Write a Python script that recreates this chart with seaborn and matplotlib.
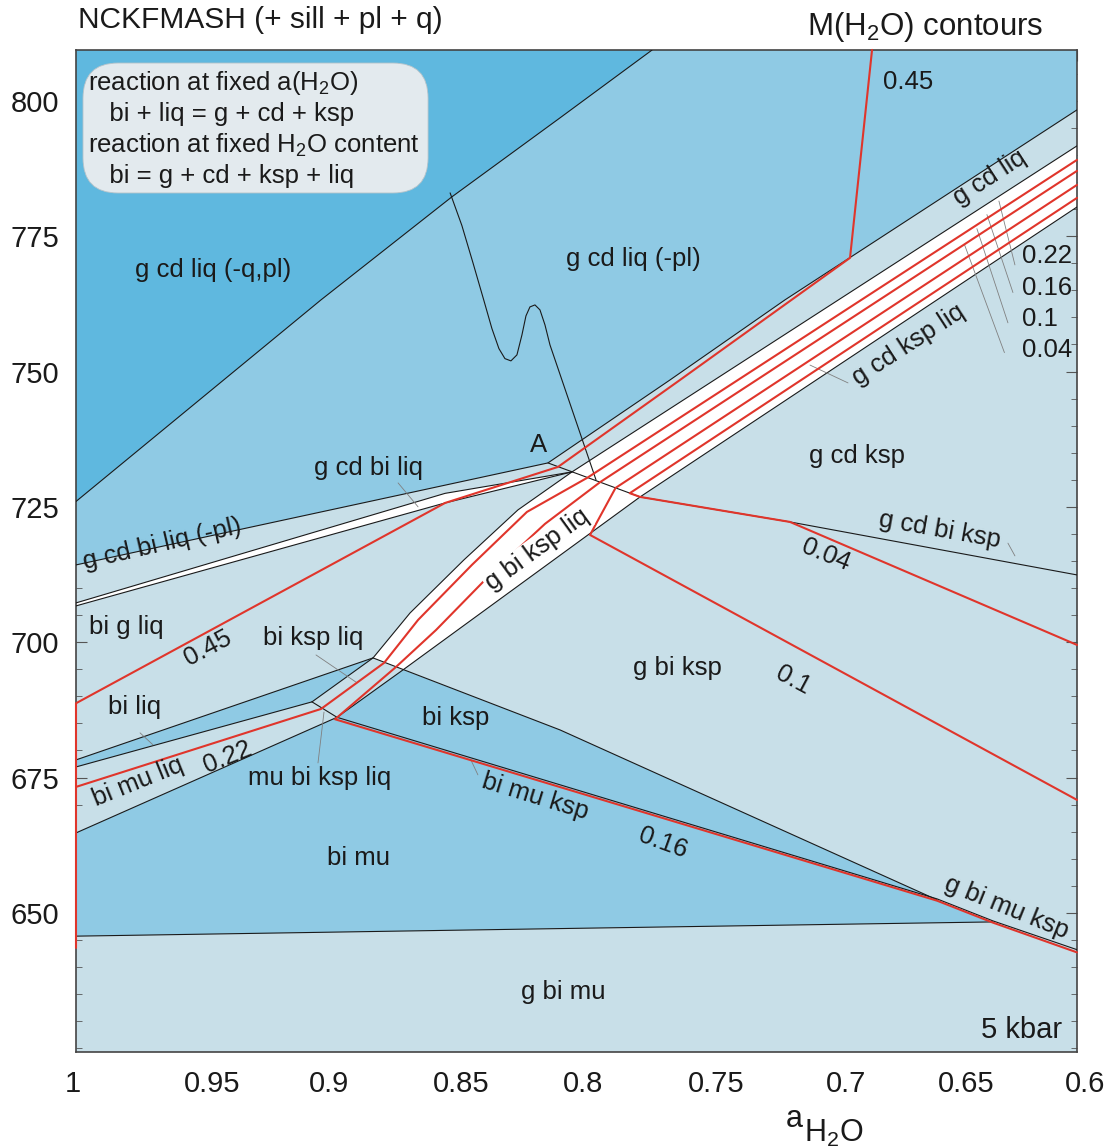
import numpy as np
import pandas as pd
import matplotlib
matplotlib.use("Agg")
import matplotlib.pyplot as plt
from matplotlib.patches import FancyBboxPatch
from matplotlib.transforms import ScaledTranslation
import seaborn as sns

# ---------------- data (a_H2O, T in C) ----------------
A_MIN, A_MAX = 0.6, 1.0
T_MIN, T_MAX = 624.3, 809.4

# field boundaries
dark_a = [1.0, 0.9021, 0.8498, 0.8066, 0.7698]
dark_T = [726.0, 763.24, 782.27, 796.86, 809.4]

top_a = [1.0, 0.8114, 0.7626, 0.7167, 0.6]          # g cd liq(-pl) lower edge through A
top_T = [714.28, 733.12, 748.46, 763.24, 798.34]

sliver_up_a = [1.0, 0.8525, 0.8018]
sliver_up_T = [707.26, 727.5, 731.46]
sliver_lo_a = [1.0, 0.8525, 0.8018]
sliver_lo_T = [706.71, 725.73, 731.46]

band_up_a = [0.9057, 0.8813, 0.8665, 0.845, 0.8234, 0.8018, 0.6]
band_up_T = [688.98, 697.1, 705.41, 715.2, 724.44, 731.46, 791.69]
band_lo_a = [0.8957, 0.8693, 0.7746, 0.6]
band_lo_T = [686.13, 694.9, 726.84, 780.4]

cross_a = [0.8114, 0.7746]                 # A to g cd bi ksp liq point
cross_T = [733.12, 726.84]

gcdbiksp_a = [0.7746, 0.7147, 0.6]
gcdbiksp_T = [726.84, 722.22, 712.43]

biksp_a = [0.8813, 0.8066, 0.6559]
biksp_T = [697.1, 683.8, 652.4]

bimuksp_a = [0.8957, 0.6559, 0.6336, 0.6]
bimuksp_T = [686.13, 652.58, 648.52, 643.2]

gbimu_a = [1.0, 0.8066, 0.6336]
gbimu_T = [645.7, 647.1, 648.33]

biliq_a = [1.0, 0.8813]
biliq_T = [678.26, 697.1]
bimuliq_up_a = [1.0, 0.9057]
bimuliq_up_T = [676.96, 688.98]
bimuliq_lo_a = [1.0, 0.8957]
bimuliq_lo_T = [664.77, 686.13]
mubikspliq_a = [0.9057, 0.8957]
mubikspliq_T = [688.98, 686.13]

# reaction curve at fixed H2O content
curve_a = [0.8505, 0.8458, 0.8414, 0.8370, 0.8338, 0.8310, 0.8286, 0.8262, 0.8238, 0.8218,
           0.8202, 0.8186, 0.8166, 0.8146, 0.8126, 0.8106, 0.7922]
curve_T = [783.0, 776.97, 770.13, 763.11, 757.94, 754.24, 752.39, 751.97, 753.08, 756.77,
           760.28, 761.94, 762.31, 761.39, 758.62, 754.92, 729.98]

# M(H2O) contours
c045_a = [0.6819, 0.6907, 0.7586, 0.8074, 0.8525, 1.0, 1.0]
c045_T = [809.42, 771.0, 748.46, 732.38, 725.73, 688.72, 643.53]
c022_a = [0.6, 0.7956, 0.8198, 0.8418, 0.8633, 0.8769, 0.9021, 1.0]
c022_T = [789.1, 730.4, 724.07, 714.28, 704.12, 696.18, 687.67, 673.27]
c016_a = [0.6, 0.7906, 0.8126, 0.8346, 0.8561, 0.8721, 0.8965, 0.6559, 0.6336, 0.6]
c016_T = [787.07, 729.56, 721.86, 712.43, 702.27, 695.44, 685.77, 652.25, 648.2, 642.7]
c010_a = [0.6, 0.7844, 0.7946, 0.6]
c010_T = [784.48, 728.5, 719.82, 670.87]
c004_a = [0.6, 0.7787, 0.7746, 0.7147, 0.6]
c004_T = [782.08, 727.53, 726.84, 722.22, 699.5]

# field labels: text, a, T, rotation
field_labels = [
    ("g cd liq (-q,pl)", 0.9453, 768.8, 0),
    ("g cd liq (-pl)", 0.7774, 770.8, 0),
    ("g cd liq", 0.6348, 785.8, 33),
    ("g cd ksp liq", 0.6675, 754.9, 33),
    ("g cd ksp", 0.6879, 734.4, 0),
    ("g cd bi ksp", 0.6547, 720.75, -10),
    ("g bi ksp", 0.7598, 695.25, 0),
    ("bi mu ksp", 0.8166, 671.4, -17),
    ("bi ksp", 0.8481, 686.0, 0),
    ("g bi mu ksp", 0.628, 650.9, -22),
    ("g bi mu", 0.8054, 635.4, 0),
    ("bi mu", 0.8873, 660.2, 0),
    ("mu bi ksp liq", 0.9025, 674.9, 0),
    ("bi mu liq", 0.9752, 674.2, 22),
    ("bi liq", 0.9764, 688.0, 0),
    ("bi ksp liq", 0.9053, 700.8, 0),
    ("bi g liq", 0.98, 702.8, 0),
    ("g cd bi liq (-pl)", 0.9656, 718.2, 13),
    ("g cd bi liq", 0.8833, 732.2, 0),
    ("A", 0.815, 736.4, 0),
]
band_label = ("g bi ksp liq", 0.8158, 717.05, 36)
contour_labels = [
    ("0.45", 0.6675, 803.5, 0),
    ("0.45", 0.9473, 698.9, 28),
    ("0.22", 0.9393, 678.8, 22),
    ("0.04", 0.7003, 716.1, -22),
    ("0.1", 0.7135, 693.0, -28),
    ("0.16", 0.7654, 662.93, -20),
]
side_values = ["0.22", "0.16", "0.1", "0.04"]
side_T = [771.3, 765.4, 759.7, 754.0]

x_ticks = [1.0, 0.95, 0.9, 0.85, 0.8, 0.75, 0.7, 0.65, 0.6]
x_tick_labels = ["1", "0.95", "0.9", "0.85", "0.8", "0.75", "0.7", "0.65", "0.6"]
x_label_shift_px = [-3, 11, 3, 10, 7, 15, 19, 14, 8]
y_ticks = [650, 675, 700, 725, 750, 775, 800]

# leader lines (a0, T0, a1, T1)
leaders = [
    (0.8713, 729.43, 0.8633, 725.0),
    (0.9041, 697.65, 0.8877, 692.5),
    (0.9744, 683.25, 0.9692, 681.03),
    (0.9033, 677.7, 0.9009, 687.1),
    (0.8422, 678.26, 0.8394, 675.5),
    (0.6915, 747.9, 0.7067, 751.2),
    (0.6276, 718.3, 0.6248, 715.95),
    (0.6248, 769.7, 0.6312, 781.5),
    (0.6256, 764.6, 0.6360, 779.0),
    (0.6276, 759.0, 0.6400, 776.4),
    (0.6290, 753.5, 0.6450, 773.5),
]

box_lines = ["reaction at fixed a(H$_2$O)", "   bi + liq = g + cd + ksp",
             "reaction at fixed H$_2$O content", "   bi = g + cd + ksp + liq"]

# ---------------- style ----------------
sns.set_theme(style="white")
plt.rcParams["font.family"] = ["Liberation Sans", "DejaVu Sans"]
plt.rcParams["mathtext.fontset"] = "custom"
plt.rcParams["mathtext.rm"] = "Liberation Sans"
plt.rcParams["mathtext.it"] = "Liberation Sans"

DARK = "#5fb8df"
MED = "#8fcae4"
LIGHT = "#c8dfe8"
RED = "#e0352b"
INK = "#1a1a1a"

fig = plt.figure(figsize=(11.06, 11.48), dpi=100)
ax = fig.add_axes([76 / 1106, 96 / 1148, 1001 / 1106, 1002 / 1148])
ax.set_xlim(A_MAX, A_MIN)
ax.set_ylim(T_MIN, T_MAX)
ax.set_facecolor(LIGHT)

# ---------------- fields ----------------
med_top = list(zip(top_a, top_T))[::-1] + [(1.0, T_MAX), (0.6, T_MAX)]
ax.fill([p[0] for p in med_top], [p[1] for p in med_top], color=MED, lw=0, zorder=1)
ax.fill([1.0] + dark_a[::-1] + [1.0], [T_MAX] + dark_T[::-1] + [T_MAX], color=DARK, lw=0, zorder=1)

ax.fill(biliq_a + [0.9057, 1.0], biliq_T + [688.98, 676.96], color=MED, lw=0, zorder=1)

bm_a = [1.0, 0.8957, 0.8693] + biksp_a[1:] + [0.6336] + gbimu_a[::-1]
bm_T = [664.77, 686.13, 694.9] + biksp_T[1:] + [648.33] + gbimu_T[::-1]
ax.fill(bm_a, bm_T, color=MED, lw=0, zorder=1)

ax.fill(sliver_up_a + sliver_lo_a[::-1], sliver_up_T + sliver_lo_T[::-1], color="white", lw=0, zorder=1)
ax.fill(band_up_a[1:] + band_lo_a[1:][::-1], band_up_T[1:] + band_lo_T[1:][::-1], color="white", lw=0, zorder=1)

# ---------------- boundaries ----------------
black_sets = [
    (dark_a, dark_T), (top_a, top_T), (sliver_up_a, sliver_up_T), (sliver_lo_a, sliver_lo_T),
    (band_up_a, band_up_T), (band_lo_a, band_lo_T), (cross_a, cross_T), (gcdbiksp_a, gcdbiksp_T),
    (biksp_a, biksp_T), (bimuksp_a, bimuksp_T), (gbimu_a, gbimu_T), (biliq_a, biliq_T),
    (bimuliq_up_a, bimuliq_up_T), (bimuliq_lo_a, bimuliq_lo_T), (mubikspliq_a, mubikspliq_T),
    (curve_a, curve_T),
]
for xa, yt in black_sets:
    df = pd.DataFrame({"a": xa, "T": yt})
    sns.lineplot(data=df, x="a", y="T", sort=False, estimator=None, color=INK, lw=0.8, ax=ax, zorder=3)

for xa, yt in [(c045_a, c045_T), (c022_a, c022_T), (c016_a, c016_T), (c010_a, c010_T), (c004_a, c004_T)]:
    df = pd.DataFrame({"a": xa, "T": yt})
    sns.lineplot(data=df, x="a", y="T", sort=False, estimator=None, color=RED, lw=1.5, ax=ax, zorder=4)
for line in ax.lines[-5:]:
    line.set_clip_on(False)

for a0, t0, a1, t1 in leaders:
    ax.plot([a0, a1], [t0, t1], color="#808080", lw=0.6, zorder=3)

# ---------------- text ----------------
for txt, a, t, rot in field_labels + contour_labels:
    ax.text(a, t, txt, fontsize=18.5, ha="center", va="center", rotation=rot, color=INK, zorder=5,
            rotation_mode="anchor")
txt, a, t, rot = band_label
ax.text(a, t, txt, fontsize=18.5, ha="center", va="center", rotation=rot, color=INK, zorder=5,
        rotation_mode="anchor", bbox=dict(fc="white", ec="none", pad=1.0))
for txt, t in zip(side_values, side_T):
    ax.text(0.622, t, txt, fontsize=18.5, ha="left", va="center", color=INK, zorder=5)
ax.text(0.606, 628.4, "5 kbar", fontsize=21, ha="right", va="center", color=INK, zorder=5)

# legend box for the two reaction types (axes-fraction placement)
box = FancyBboxPatch((0.007, 0.8573), 0.3447, 0.1297,
                     boxstyle="round,pad=0,rounding_size=0.035",
                     transform=ax.transAxes, fc="#e3eaee", ec="#b8c4ca", lw=0.6, zorder=6)
ax.add_patch(box)
for txt, yf in zip(box_lines, [0.9670, 0.9360, 0.9050, 0.8740]):
    ax.text(0.0115, yf, txt, fontsize=18.5, ha="left", va="center", color=INK, zorder=7,
            transform=ax.transAxes)

fig.text(78 / 1106, 1 - 20 / 1148, "NCKFMASH (+ sill + pl + q)", fontsize=21.5, ha="left", va="center", color=INK)
fig.text(1043 / 1106, 1 - 27 / 1148, "M(H$_2$O) contours", fontsize=22.5, ha="right", va="center", color=INK)
fig.text(786 / 1106, 1 - 1119 / 1148, "a", fontsize=22, ha="left", va="center", color=INK)
fig.text(804 / 1106, 1 - 1133 / 1148, "H$_2$O", fontsize=22, ha="left", va="center", color=INK)

# ---------------- axes ----------------
ax.set_xlabel("")
ax.set_ylabel("")
ax.set_xticks(x_ticks)
ax.set_xticklabels(x_tick_labels)
ax.set_xticks(np.arange(0.6, 1.0001, 0.01), minor=True)
ax.set_yticks(y_ticks)
ax.set_yticks(np.arange(625, 810, 5), minor=True)
ax.tick_params(axis="x", which="both", bottom=False, top=True, direction="in", labelsize=21,
               pad=13, colors=INK)
ax.tick_params(axis="y", which="both", left=True, right=True, direction="in", labelsize=21,
               pad=12, colors=INK)
ax.tick_params(which="major", length=8, width=0.8, color="#555555")
ax.tick_params(which="minor", length=4, width=0.6, color="#555555")
for lab, dx in zip(ax.get_xticklabels(), x_label_shift_px):
    lab.set_transform(lab.get_transform() + ScaledTranslation(dx / 100, 0, fig.dpi_scale_trans))
for s in ax.spines.values():
    s.set_color("#444444")
    s.set_linewidth(1.2)
    s.set_visible(True)

fig.savefig("out.png", dpi=100)
